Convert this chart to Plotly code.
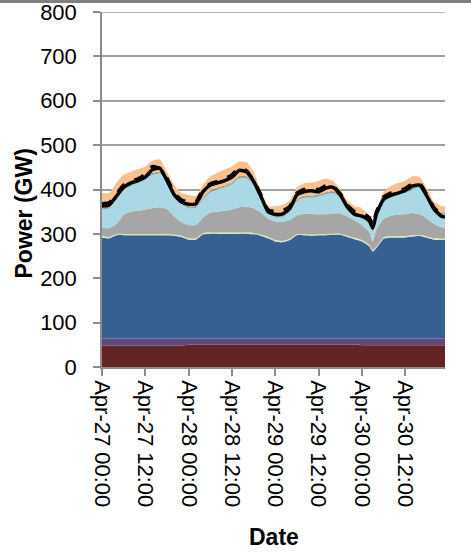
import pandas as pd
import plotly.graph_objects as go

# ---- data (GW), sampled every 2 h (plus the 75 h dip and the final hour) ----
HOURS = [0, 2, 4, 6, 8, 10, 12, 14, 16, 18, 20, 22,
         24, 26, 28, 30, 32, 34, 36, 38, 40, 42, 44, 46,
         48, 50, 52, 54, 56, 58, 60, 62, 64, 66, 68, 70,
         72, 74, 75, 76,
         78, 80, 82, 84, 86, 88, 90, 92, 94, 95]

maroon = [48] * 12 + [50] * 24 + [49] * 14
purple = [16] * 12 + [14] * 24 + [15] * 14
blue = [228, 226, 233, 233, 233, 233, 233, 233, 233, 233, 232, 229,
        223, 223, 235, 236, 236, 236, 236, 236, 236, 235, 232, 226,
        219, 217, 222, 233, 233, 232, 233, 233, 234, 234, 229, 224,
        219, 208, 196, 204,
        225, 228, 228, 228, 230, 231, 227, 223, 222, 222]
yellow = [3] * 50
gray = [19, 20, 22, 43, 50, 52, 55, 58, 60, 56, 41, 30,
        30, 30, 35, 45, 47, 49, 52, 57, 58, 56, 49, 41,
        42, 43, 42, 42, 45, 46, 44, 44, 45, 45, 43, 39,
        34, 30, 20, 39,
        42, 46, 48, 49, 50, 46, 40, 32, 26, 24]
lightblue = [41, 45, 63, 57, 58, 63, 69, 75, 76, 66, 54, 42,
             38, 39, 42, 46, 50, 53, 57, 66, 65, 54, 37, 16,
             9, 11, 19, 32, 37, 37, 41, 46, 46, 36, 16, 10,
             15, 17, 22, 25,
             38, 44, 47, 48, 53, 61, 51, 33, 30, 30]
teal = [2] * 50
brown = [2] * 50
peach = [33, 30, 26, 29, 28, 27, 24, 28, 28, 14, 12, 20,
         26, 22, 29, 32, 34, 36, 36, 33, 32, 24, 8, 9,
         21, 23, 21, 27, 28, 30, 31, 31, 24, 14, 16, 18,
         19, 14, 9, 11,
         19, 19, 21, 24, 26, 19, 13, 13, 14, 15]
demand = [363, 365, 385, 405, 415, 420, 428, 445, 448, 420, 388, 372,
          367, 368, 395, 410, 415, 420, 428, 443, 440, 418, 385, 350,
          344, 345, 357, 388, 395, 397, 395, 403, 405, 388, 360, 344,
          340, 330, 313, 345,
          378, 387, 392, 398, 408, 410, 385, 355, 340, 338]
demand_dashed = [368, 370, 390, 410, 418, 424, 434, 452, 447, 425, 392, 376,
                 372, 372, 400, 413, 418, 424, 433, 448, 442, 420, 388, 354,
                 350, 352, 362, 392, 400, 400, 400, 408, 407, 390, 364, 350,
                 348, 337, 320, 349,
                 383, 392, 397, 402, 413, 413, 388, 358, 345, 342]

Y_TICKS = [0, 100, 200, 300, 400, 500, 600, 700, 800]
Y_MAX = 800

START = pd.Timestamp("2012-04-27 00:00")
times = [START + pd.Timedelta(hours=h) for h in HOURS]

FONT = "Liberation Sans, Arial, sans-serif"

layers = [
    ("Layer 1", maroon, "#632523"),
    ("Layer 2", purple, "#604A7B"),
    ("Layer 3", blue, "#376092"),
    ("Layer 4", yellow, "#DDE6B0"),
    ("Layer 5", gray, "#A6A6A6"),
    ("Layer 6", lightblue, "#AAD8E4"),
    ("Layer 7", teal, "#4BACC6"),
    ("Layer 8", brown, "#C0702E"),
    ("Layer 9", peach, "#FAC090"),
]

fig = go.Figure()
for name, vals, col in layers:
    fig.add_trace(go.Scatter(
        x=times, y=vals, name=name, stackgroup="one", mode="lines",
        line=dict(width=0, shape="spline", smoothing=0.5, color=col),
        fillcolor=col, hoverinfo="x+y"))

fig.add_trace(go.Scatter(x=times, y=demand_dashed, mode="lines", name="Dashed",
                         line=dict(color="black", width=3.5, dash="dash",
                                   shape="spline", smoothing=0.5)))
fig.add_trace(go.Scatter(x=times, y=demand, mode="lines", name="Demand",
                         line=dict(color="black", width=3.5,
                                   shape="spline", smoothing=0.5)))

fig.update_layout(
    width=471, height=554,
    margin=dict(l=102, r=26, t=12, b=187),
    paper_bgcolor="white", plot_bgcolor="white",
    showlegend=False,
    font=dict(family=FONT, size=22, color="black"),
    xaxis=dict(
        type="date",
        range=[START, START + pd.Timedelta(hours=95)],
        tick0=START, dtick=12 * 3600 * 1000,
        tickformat="%b-%d %H:%M", tickangle=90,
        ticks="outside", ticklen=7, tickcolor="#8C8C8C", tickwidth=1.5,
        showline=True, linecolor="#8C8C8C", linewidth=1.5,
        showgrid=False, zeroline=False,
        tickfont=dict(family=FONT, size=22, color="black"),
        automargin=False,
    ),
    yaxis=dict(
        range=[0, Y_MAX], tickvals=Y_TICKS,
        ticks="outside", ticklen=7, tickcolor="#8C8C8C", tickwidth=1.5,
        showline=True, linecolor="#8C8C8C", linewidth=1.5,
        showgrid=True, gridcolor="#A0A0A0", gridwidth=1.5,
        zeroline=False,
        ticklabelstandoff=12,
        ticklabeloverflow="allow",
        tickfont=dict(family=FONT, size=22, color="black"),
        automargin=False,
    ),
    annotations=[
        dict(text="<b>Power (GW)</b>", textangle=-90, showarrow=False,
             xref="paper", yref="paper", x=(23.5 - 102) / 343, y=(367 - 214) / 355,
             xanchor="center", yanchor="middle",
             font=dict(family=FONT, size=23, color="black")),
        dict(text="<b>Date</b>", showarrow=False,
             xref="paper", yref="paper", x=0.5, y=(367 - 537) / 355,
             xanchor="center", yanchor="middle",
             font=dict(family=FONT, size=23, color="black")),
    ],
    shapes=[
        # top gridline (plotly omits the grid line lying on the plot edge)
        dict(type="line", xref="paper", yref="y", x0=0, x1=1, y0=Y_MAX, y1=Y_MAX,
             line=dict(color="#A0A0A0", width=1.5), layer="below"),
        # grey frame strip along the top edge of the picture
        dict(type="rect", xref="paper", yref="paper",
             x0=-0.4, x1=1.2, y0=1 + 9 / 355, y1=1 + 14 / 355,
             fillcolor="#808080", line=dict(width=0), layer="above"),
    ],
)

fig.write_html("out.html",
               config={"displayModeBar": False},
               post_script="document.body.style.margin='0';document.body.style.padding='0';")
